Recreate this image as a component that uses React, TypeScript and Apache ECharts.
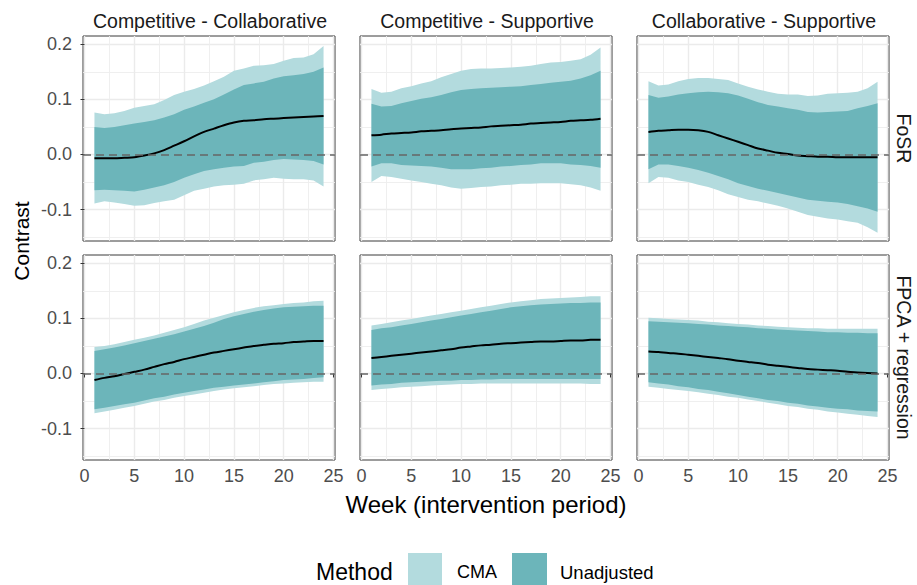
import React, { useEffect, useRef } from "react";
import * as echarts from "echarts";

// ---------------- data ----------------
const weeks = [1, 2, 3, 4, 5, 6, 7, 8, 9, 10, 11, 12, 13, 14, 15, 16, 17, 18, 19, 20, 21, 22, 23, 24];
const contrastLabels = ["Competitive - Collaborative", "Competitive - Supportive", "Collaborative - Supportive"];
const modelLabels = ["FoSR", "FPCA + regression"];
const methodLabels = ["CMA", "Unadjusted"];
const xTickValues = [0, 5, 10, 15, 20, 25];
const yTickValues = [-0.1, 0, 0.1, 0.2];

// FoSR — Competitive - Collaborative
const fosrCompCollabEst = [-0.007, -0.007, -0.007, -0.006, -0.005, -0.002, 0.002, 0.008, 0.016, 0.024, 0.033, 0.041, 0.047, 0.053, 0.058, 0.061, 0.062, 0.064, 0.065, 0.066, 0.067, 0.068, 0.069, 0.07];
const fosrCompCollabCmaLo = [-0.089, -0.085, -0.087, -0.09, -0.093, -0.092, -0.088, -0.085, -0.082, -0.074, -0.066, -0.062, -0.058, -0.056, -0.055, -0.053, -0.047, -0.045, -0.042, -0.044, -0.045, -0.045, -0.047, -0.058];
const fosrCompCollabCmaHi = [0.076, 0.073, 0.075, 0.079, 0.085, 0.088, 0.091, 0.099, 0.108, 0.114, 0.119, 0.125, 0.133, 0.141, 0.152, 0.156, 0.161, 0.162, 0.164, 0.17, 0.175, 0.176, 0.182, 0.197];
const fosrCompCollabUnLo = [-0.065, -0.064, -0.065, -0.066, -0.067, -0.064, -0.06, -0.056, -0.05, -0.042, -0.036, -0.03, -0.027, -0.024, -0.022, -0.021, -0.015, -0.013, -0.01, -0.008, -0.009, -0.01, -0.012, -0.018];
const fosrCompCollabUnHi = [0.05, 0.048, 0.05, 0.053, 0.056, 0.059, 0.062, 0.067, 0.073, 0.081, 0.087, 0.094, 0.1, 0.109, 0.118, 0.126, 0.129, 0.132, 0.138, 0.142, 0.144, 0.146, 0.15, 0.158];

// FoSR — Competitive - Supportive
const fosrCompSuppEst = [0.035, 0.036, 0.038, 0.039, 0.04, 0.042, 0.043, 0.044, 0.046, 0.047, 0.048, 0.049, 0.051, 0.052, 0.053, 0.054, 0.056, 0.057, 0.058, 0.059, 0.061, 0.062, 0.063, 0.065];
const fosrCompSuppCmaLo = [-0.05, -0.039, -0.041, -0.044, -0.047, -0.05, -0.053, -0.056, -0.06, -0.062, -0.061, -0.059, -0.058, -0.056, -0.055, -0.053, -0.053, -0.052, -0.052, -0.052, -0.054, -0.056, -0.06, -0.066];
const fosrCompSuppCmaHi = [0.119, 0.112, 0.114, 0.12, 0.124, 0.129, 0.133, 0.14, 0.146, 0.152, 0.155, 0.156, 0.156, 0.157, 0.158, 0.159, 0.161, 0.164, 0.167, 0.168, 0.17, 0.173, 0.181, 0.194];
const fosrCompSuppUnLo = [-0.022, -0.016, -0.016, -0.019, -0.02, -0.021, -0.022, -0.024, -0.027, -0.027, -0.027, -0.025, -0.024, -0.022, -0.021, -0.019, -0.018, -0.016, -0.016, -0.016, -0.018, -0.019, -0.021, -0.024];
const fosrCompSuppUnHi = [0.092, 0.087, 0.088, 0.093, 0.097, 0.101, 0.104, 0.108, 0.113, 0.117, 0.119, 0.12, 0.121, 0.122, 0.123, 0.124, 0.126, 0.128, 0.13, 0.132, 0.134, 0.138, 0.144, 0.152];

// FoSR — Collaborative - Supportive
const fosrCollabSuppEst = [0.041, 0.043, 0.044, 0.045, 0.045, 0.044, 0.041, 0.035, 0.029, 0.023, 0.017, 0.011, 0.007, 0.003, 0.001, -0.002, -0.003, -0.004, -0.004, -0.005, -0.005, -0.005, -0.005, -0.005];
const fosrCollabSuppCmaLo = [-0.052, -0.041, -0.042, -0.047, -0.05, -0.055, -0.059, -0.065, -0.072, -0.077, -0.082, -0.085, -0.089, -0.093, -0.098, -0.104, -0.11, -0.113, -0.116, -0.118, -0.121, -0.124, -0.132, -0.142];
const fosrCollabSuppCmaHi = [0.133, 0.125, 0.127, 0.133, 0.137, 0.139, 0.139, 0.137, 0.135, 0.129, 0.123, 0.118, 0.114, 0.11, 0.109, 0.109, 0.106, 0.107, 0.11, 0.111, 0.112, 0.114, 0.12, 0.132];
const fosrCollabSuppUnLo = [-0.027, -0.018, -0.018, -0.021, -0.024, -0.028, -0.033, -0.039, -0.045, -0.052, -0.057, -0.062, -0.066, -0.07, -0.074, -0.078, -0.082, -0.084, -0.086, -0.087, -0.09, -0.094, -0.098, -0.104];
const fosrCollabSuppUnHi = [0.108, 0.103, 0.105, 0.109, 0.111, 0.113, 0.114, 0.113, 0.111, 0.107, 0.101, 0.095, 0.09, 0.087, 0.084, 0.081, 0.077, 0.076, 0.077, 0.078, 0.079, 0.084, 0.088, 0.093];

// FPCA + regression — Competitive - Collaborative
const fpcaCompCollabEst = [-0.012, -0.008, -0.005, -0.001, 0.003, 0.007, 0.012, 0.017, 0.021, 0.026, 0.03, 0.034, 0.038, 0.041, 0.044, 0.047, 0.05, 0.052, 0.054, 0.055, 0.057, 0.058, 0.059, 0.059];
const fpcaCompCollabCmaLo = [-0.072, -0.069, -0.066, -0.062, -0.059, -0.055, -0.051, -0.048, -0.044, -0.041, -0.038, -0.035, -0.032, -0.029, -0.027, -0.025, -0.023, -0.021, -0.019, -0.018, -0.017, -0.016, -0.015, -0.015];
const fpcaCompCollabCmaHi = [0.048, 0.05, 0.053, 0.057, 0.061, 0.065, 0.069, 0.074, 0.079, 0.084, 0.09, 0.096, 0.101, 0.106, 0.111, 0.115, 0.119, 0.122, 0.124, 0.126, 0.128, 0.129, 0.131, 0.132];
const fpcaCompCollabUnLo = [-0.065, -0.062, -0.059, -0.056, -0.053, -0.049, -0.045, -0.042, -0.038, -0.035, -0.032, -0.029, -0.026, -0.024, -0.022, -0.02, -0.018, -0.016, -0.014, -0.012, -0.011, -0.01, -0.008, -0.007];
const fpcaCompCollabUnHi = [0.041, 0.044, 0.047, 0.051, 0.055, 0.059, 0.063, 0.067, 0.071, 0.076, 0.081, 0.086, 0.092, 0.099, 0.104, 0.108, 0.112, 0.115, 0.118, 0.12, 0.121, 0.122, 0.123, 0.123];

// FPCA + regression — Competitive - Supportive
const fpcaCompSuppEst = [0.028, 0.03, 0.032, 0.034, 0.036, 0.038, 0.04, 0.042, 0.044, 0.047, 0.049, 0.051, 0.052, 0.054, 0.055, 0.056, 0.057, 0.058, 0.058, 0.059, 0.06, 0.06, 0.061, 0.061];
const fpcaCompSuppCmaLo = [-0.03, -0.028, -0.027, -0.025, -0.024, -0.023, -0.022, -0.021, -0.02, -0.019, -0.019, -0.018, -0.018, -0.018, -0.018, -0.018, -0.018, -0.018, -0.018, -0.018, -0.018, -0.018, -0.019, -0.019];
const fpcaCompSuppCmaHi = [0.087, 0.09, 0.093, 0.096, 0.099, 0.102, 0.105, 0.108, 0.111, 0.114, 0.117, 0.12, 0.123, 0.126, 0.129, 0.131, 0.133, 0.135, 0.136, 0.137, 0.138, 0.139, 0.14, 0.14];
const fpcaCompSuppUnLo = [-0.022, -0.02, -0.019, -0.017, -0.016, -0.015, -0.014, -0.013, -0.013, -0.012, -0.012, -0.011, -0.011, -0.01, -0.01, -0.01, -0.01, -0.01, -0.01, -0.01, -0.01, -0.01, -0.01, -0.01];
const fpcaCompSuppUnHi = [0.079, 0.082, 0.084, 0.087, 0.09, 0.093, 0.096, 0.099, 0.102, 0.105, 0.108, 0.111, 0.114, 0.117, 0.12, 0.122, 0.124, 0.125, 0.126, 0.127, 0.128, 0.128, 0.129, 0.129];

// FPCA + regression — Collaborative - Supportive
const fpcaCollabSuppEst = [0.04, 0.039, 0.037, 0.036, 0.034, 0.032, 0.03, 0.028, 0.026, 0.023, 0.021, 0.019, 0.016, 0.014, 0.012, 0.01, 0.008, 0.007, 0.006, 0.005, 0.003, 0.002, 0.001, 0.0];
const fpcaCollabSuppCmaLo = [-0.024, -0.026, -0.028, -0.03, -0.032, -0.034, -0.037, -0.039, -0.042, -0.044, -0.047, -0.05, -0.053, -0.056, -0.059, -0.061, -0.064, -0.066, -0.069, -0.071, -0.073, -0.075, -0.077, -0.079];
const fpcaCollabSuppCmaHi = [0.101, 0.1, 0.099, 0.098, 0.097, 0.096, 0.094, 0.093, 0.091, 0.09, 0.089, 0.087, 0.086, 0.085, 0.084, 0.083, 0.082, 0.082, 0.081, 0.081, 0.081, 0.081, 0.081, 0.081];
const fpcaCollabSuppUnLo = [-0.016, -0.018, -0.02, -0.023, -0.025, -0.028, -0.03, -0.033, -0.036, -0.039, -0.042, -0.045, -0.048, -0.05, -0.053, -0.055, -0.058, -0.06, -0.062, -0.064, -0.065, -0.067, -0.068, -0.069];
const fpcaCollabSuppUnHi = [0.095, 0.094, 0.093, 0.092, 0.091, 0.09, 0.089, 0.087, 0.086, 0.085, 0.084, 0.082, 0.081, 0.08, 0.079, 0.078, 0.077, 0.076, 0.075, 0.075, 0.074, 0.074, 0.073, 0.073];

// ---------------- layout / style ----------------
const FONT = "'Liberation Sans', Arial, Helvetica, sans-serif";
const CMA_COLOR = "#b3dbde";
const UN_COLOR = "#6cb5ba";
const colLeft = [83, 360, 637];
const colWidth = 252;
const rowTop = [36, 255];
const rowHeight = 205;

type Panel = { row: number; col: number; est: number[]; cmaLo: number[]; cmaHi: number[]; unLo: number[]; unHi: number[] };

const panels: Panel[] = [
  { row: 0, col: 0, est: fosrCompCollabEst, cmaLo: fosrCompCollabCmaLo, cmaHi: fosrCompCollabCmaHi, unLo: fosrCompCollabUnLo, unHi: fosrCompCollabUnHi },
  { row: 0, col: 1, est: fosrCompSuppEst, cmaLo: fosrCompSuppCmaLo, cmaHi: fosrCompSuppCmaHi, unLo: fosrCompSuppUnLo, unHi: fosrCompSuppUnHi },
  { row: 0, col: 2, est: fosrCollabSuppEst, cmaLo: fosrCollabSuppCmaLo, cmaHi: fosrCollabSuppCmaHi, unLo: fosrCollabSuppUnLo, unHi: fosrCollabSuppUnHi },
  { row: 1, col: 0, est: fpcaCompCollabEst, cmaLo: fpcaCompCollabCmaLo, cmaHi: fpcaCompCollabCmaHi, unLo: fpcaCompCollabUnLo, unHi: fpcaCompCollabUnHi },
  { row: 1, col: 1, est: fpcaCompSuppEst, cmaLo: fpcaCompSuppCmaLo, cmaHi: fpcaCompSuppCmaHi, unLo: fpcaCompSuppUnLo, unHi: fpcaCompSuppUnHi },
  { row: 1, col: 2, est: fpcaCollabSuppEst, cmaLo: fpcaCollabSuppCmaLo, cmaHi: fpcaCollabSuppCmaHi, unLo: fpcaCollabSuppUnLo, unHi: fpcaCollabSuppUnHi },
];

const isMultiple = (v: number, step: number) => Math.abs(v / step - Math.round(v / step)) < 1e-6;

function bandSeries(i: number, lo: number[], hi: number[], color: string, name: string, z: number) {
  return {
    type: "custom",
    name,
    coordinateSystem: "cartesian2d",
    xAxisIndex: i,
    yAxisIndex: i,
    silent: true,
    z,
    data: weeks.map((w, k) => [w, lo[k], hi[k]]),
    encode: { x: 0, y: [1, 2] },
    renderItem: (params: any, api: any) => {
      if (params.dataIndex !== 0) return null;
      const pts: number[][] = [];
      for (let k = 0; k < weeks.length; k++) pts.push(api.coord([weeks[k], hi[k]]));
      for (let k = weeks.length - 1; k >= 0; k--) pts.push(api.coord([weeks[k], lo[k]]));
      return { type: "polygon", shape: { points: pts }, style: { fill: color, stroke: "none" } };
    },
  };
}

function buildOption() {
  const grid: any[] = [];
  const xAxis: any[] = [];
  const yAxis: any[] = [];
  const series: any[] = [];

  panels.forEach((p, i) => {
    grid.push({
      left: colLeft[p.col],
      top: rowTop[p.row],
      width: colWidth,
      height: rowHeight,
      show: true,
      backgroundColor: "#ffffff",
      borderColor: "#3a3a3a",
      borderWidth: 1,
      containLabel: false,
      outerBoundsMode: "none",
    });
    const showX = p.row === 1;
    const showY = p.col === 0;
    xAxis.push({
      gridIndex: i,
      type: "value",
      min: -0.15,
      max: 25.15,
      axisLine: { show: false },
      axisTick: { show: showX, customValues: xTickValues, length: 4, lineStyle: { color: "#333333", width: 1 } },
      axisLabel: {
        show: showX,
        customValues: xTickValues,
        margin: 7,
        fontSize: 18,
        fontFamily: FONT,
        color: "#4d4d4d",
        formatter: (v: number) => (isMultiple(v, 5) ? String(Math.round(v)) : ""),
      },
      splitLine: { show: true, lineStyle: { color: "#ebebeb", width: 1.4 } },
      minorTick: { show: false, splitNumber: 2 },
      minorSplitLine: { show: true, lineStyle: { color: "#ededed", width: 0.9 } },
    });
    yAxis.push({
      gridIndex: i,
      type: "value",
      min: -0.157,
      max: 0.215,
      axisLine: { show: false },
      axisTick: { show: showY, customValues: yTickValues, length: 4, lineStyle: { color: "#333333", width: 1 } },
      axisLabel: {
        show: showY,
        customValues: yTickValues,
        margin: 11,
        fontSize: 18,
        fontFamily: FONT,
        color: "#4d4d4d",
        formatter: (v: number) => (isMultiple(v, 0.1) ? (Math.abs(v) < 1e-9 ? "0.0" : v.toFixed(1)) : ""),
      },
      splitLine: { show: true, lineStyle: { color: "#ebebeb", width: 1.4 } },
      minorTick: { show: false, splitNumber: 2 },
      minorSplitLine: { show: true, lineStyle: { color: "#ededed", width: 0.9 } },
    });

    series.push(bandSeries(i, p.cmaLo, p.cmaHi, CMA_COLOR, methodLabels[0], 2));
    series.push(bandSeries(i, p.unLo, p.unHi, UN_COLOR, methodLabels[1], 3));

    series.push({
      type: "line",
      name: "estimate",
      xAxisIndex: i,
      yAxisIndex: i,
      data: weeks.map((w, k) => [w, p.est[k]]),
      symbol: "none",
      showSymbol: false,
      smooth: 0.3,
      lineStyle: { color: "#000000", width: 2 },
      silent: true,
      z: 4,
      markLine: {
        silent: true,
        symbol: ["none", "none"],
        label: { show: false },
        lineStyle: { color: "#666666", type: [8, 5], width: 1.5 },
        data: [{ yAxis: 0 }],
        z: 5,
      },
    });
  });

  const graphic: any[] = [];
  contrastLabels.forEach((t, c) => {
    graphic.push({
      type: "text",
      x: colLeft[c] + colWidth / 2 + 1,
      y: 21,
      style: { text: t, fill: "#1a1a1a", font: `19.5px ${FONT}`, align: "center", verticalAlign: "middle" },
    });
  });
  modelLabels.forEach((t, r) => {
    graphic.push({
      type: "text",
      x: 904,
      y: rowTop[r] + rowHeight / 2,
      rotation: -Math.PI / 2,
      style: { text: t, fill: "#1a1a1a", font: `19.5px ${FONT}`, align: "center", verticalAlign: "middle" },
    });
  });
  graphic.push({
    type: "text",
    x: 21,
    y: 241,
    rotation: Math.PI / 2,
    style: { text: "Contrast", fill: "#000000", font: `21px ${FONT}`, align: "center", verticalAlign: "middle" },
  });
  graphic.push({
    type: "text",
    x: 486,
    y: 504,
    style: { text: "Week (intervention period)", fill: "#000000", font: `24px ${FONT}`, align: "center", verticalAlign: "middle" },
  });
  // legend
  graphic.push({
    type: "text",
    x: 316,
    y: 572,
    style: { text: "Method", fill: "#000000", font: `23px ${FONT}`, align: "left", verticalAlign: "middle" },
  });
  graphic.push({ type: "rect", shape: { x: 408, y: 553, width: 34, height: 40 }, style: { fill: CMA_COLOR } });
  graphic.push({
    type: "text",
    x: 457,
    y: 572,
    style: { text: methodLabels[0], fill: "#000000", font: `18px ${FONT}`, align: "left", verticalAlign: "middle" },
  });
  graphic.push({ type: "rect", shape: { x: 512, y: 553, width: 35, height: 40 }, style: { fill: UN_COLOR } });
  graphic.push({
    type: "text",
    x: 560,
    y: 572,
    style: { text: methodLabels[1], fill: "#000000", font: `18.5px ${FONT}`, align: "left", verticalAlign: "middle" },
  });

  return {
    animation: false,
    backgroundColor: "#ffffff",
    textStyle: { fontFamily: FONT },
    grid,
    xAxis,
    yAxis,
    series,
    graphic,
  };
}

export default function App() {
  const ref = useRef<HTMLDivElement>(null);
  useEffect(() => {
    if (!ref.current) return;
    const chart = echarts.init(ref.current, undefined, { renderer: "svg" });
    chart.setOption(buildOption() as any);
    return () => chart.dispose();
  }, []);
  return (
    <div
      ref={ref}
      style={{ position: "absolute", left: 0, top: 0, width: 917, height: 585, background: "#ffffff" }}
    />
  );
}
